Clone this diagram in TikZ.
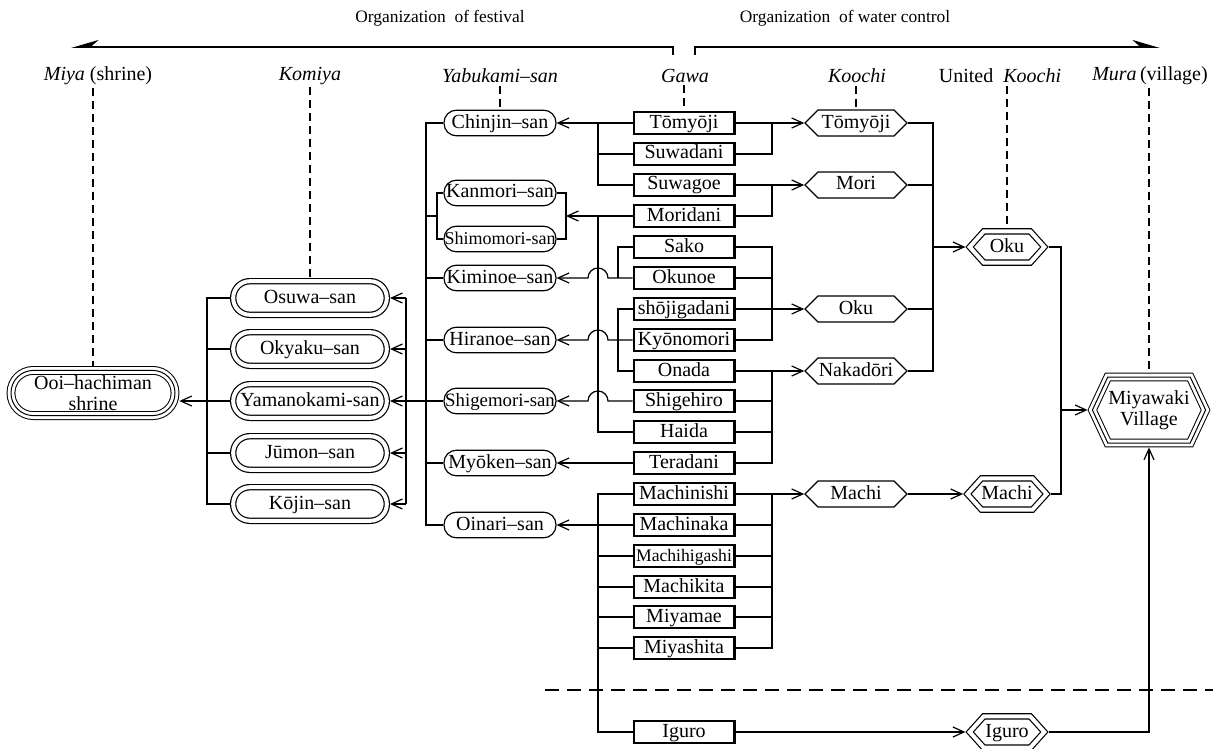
\documentclass[tikz,border=0pt]{standalone}
\usepackage{fontspec}
\setmainfont{Liberation Serif}
\usetikzlibrary{arrows.meta,calc,shapes.symbols}

\tikzset{
  colhead/.style={inner sep=1pt},
  orglabel/.style={font=\fontsize{8.7}{9}\selectfont},
  guide/.style={dash pattern=on 4pt off 2.5pt},
  arr/.style={-{Straight Barb[length=5.5pt,width=5pt]}},
  gawa/.style={draw, line width=1.2pt, minimum width=50.3pt, minimum height=10.8pt, text height=7pt, text depth=2pt, inner xsep=0pt, inner ysep=0.9pt},
  yabu/.style={draw, rounded corners=6.2pt, minimum width=56pt, minimum height=12.8pt, text height=7pt, text depth=2pt, inner xsep=0pt, inner ysep=1.9pt},
  komiya/.style={draw, double, double distance=2pt, rounded corners=8.3pt, minimum width=76.8pt, minimum height=16.8pt, text height=7pt, text depth=2pt, inner xsep=0pt, inner ysep=3.9pt, outer sep=1.6pt},
  koochi/.style={draw, signal, signal to=east and west, signal pointer angle=90, minimum width=51pt, minimum height=13pt, text height=7pt, text depth=2pt, inner xsep=0pt, inner ysep=2pt},
  unikoochi/.style={draw, double, double distance=2pt, signal, signal to=east and west, signal pointer angle=96, minimum width=37.3pt, minimum height=15.5pt, text height=7pt, text depth=2pt, inner xsep=0pt, inner ysep=3.3pt, outer sep=1.6pt},
  triple/.style={preaction={draw, line width=4.4pt}, preaction={draw, white, line width=3.4pt}, draw, line width=0.5pt, outer sep=2.2pt},
  shrine/.style={triple, rounded corners=11.2pt, minimum width=82pt, minimum height=22.6pt, inner sep=0pt, align=center},
  village/.style={triple, signal, signal to=east and west, signal pointer angle=130, minimum width=56.6pt, minimum height=33pt, inner sep=0pt, align=center},
}

\begin{document}
\begin{tikzpicture}[x=0.5pt, y=-0.5pt, line width=0.6pt, font=\fontsize{10}{10.5}\selectfont]
	\useasboundingbox (0,0) rectangle (1221,749);
	
	% the two organizations
	\node[orglabel] (festival) at (440,18) {Organization\ \ of festival};
	\node[orglabel] (water) at (845,18) {Organization\ \ of water control};
	\coordinate (festtick) at (673,55);
	\coordinate (festtip) at (71,47);
	\coordinate (watertick) at (695,55);
	\coordinate (watertip) at (1160,47);
	\draw[line width=1pt, -{Stealth[harpoon, swap, length=12pt, width=7pt]}] (festtick) |- (festtip);
	\draw[line width=1pt, -{Stealth[harpoon, length=12pt, width=7pt]}] (watertick) |- (watertip);
	
	% column heads
	\node[colhead] (miyah) at (98,76) {\textit{Miya} (shrine)};
	\node[colhead] (komiyah) at (310,76) {\textit{Komiya}};
	\node[colhead] (yabuh) at (500,76) {\textit{Yabukami–san}};
	\node[colhead] (gawah) at (685,76) {\textit{Gawa}};
	\node[colhead] (koochih) at (857,76) {\textit{Koochi}};
	\node[colhead] (unih) at (1000,76) {United\ \ \textit{Koochi}};
	\node[colhead] (murah) at (1150,76) {\textit{Mura}\,(village)};
	
	% bus lines
	\coordinate (kL) at (207,0);
	\coordinate (kR) at (406,0);
	\coordinate (yL) at (426,0);
	\coordinate (yB1) at (437,0);
	\coordinate (yB2) at (566,0);
	\coordinate (gL1) at (598,0);
	\coordinate (gL2) at (618,0);
	\coordinate (gR) at (772,0);
	\coordinate (uK) at (933,0);
	\coordinate (uR) at (1061,0);
	
	% Miya
	\node[shrine] (ooi) at (93,393) {Ooi–hachiman\\shrine};
	
	% Komiya
	\node[komiya] (osuwa) at (310,298) {Osuwa–san};
	\node[komiya] (okyaku) at (310,349) {Okyaku–san};
	\node[komiya] (yamanokami) at (310,401) {Yamanokami-san};
	\node[komiya] (jumon) at (310,453) {Jūmon–san};
	\node[komiya] (kojin) at (310,504) {Kōjin–san};
	
	% Yabukami-san
	\node[yabu] (chinjin) at (500,123) {Chinjin–san};
	\node[yabu] (kanmori) at (500,193) {Kanmori–san};
	\node[yabu, font=\fontsize{9}{9}\selectfont] (shimomori) at (500,239) {Shimomori-san};
	\node[yabu] (kiminoe) at (500,278) {Kiminoe–san};
	\node[yabu] (hiranoe) at (500,340) {Hiranoe–san};
	\node[yabu, font=\fontsize{9.4}{9.4}\selectfont] (shigemori) at (500,401) {Shigemori-san};
	\node[yabu] (myoken) at (500,463) {Myōken–san};
	\node[yabu] (oinari) at (500,525) {Oinari–san};
	
	% Gawa
	\node[gawa] (tomyoji) at (684,123) {Tōmyōji};
	\node[gawa] (suwadani) at (684,154) {Suwadani};
	\node[gawa] (suwagoe) at (684,185) {Suwagoe};
	\node[gawa] (moridani) at (684,216) {Moridani};
	\node[gawa] (sako) at (684,247) {Sako};
	\node[gawa] (okunoe) at (684,278) {Okunoe};
	\node[gawa] (shojigadani) at (684,309) {shōjigadani};
	\node[gawa] (kyonomori) at (684,340) {Kyōnomori};
	\node[gawa] (onada) at (684,371) {Onada};
	\node[gawa] (shigehiro) at (684,401) {Shigehiro};
	\node[gawa] (haida) at (684,432) {Haida};
	\node[gawa] (teradani) at (684,463) {Teradani};
	\node[gawa] (machinishi) at (684,494) {Machinishi};
	\node[gawa] (machinaka) at (684,525) {Machinaka};
	\node[gawa, font=\fontsize{8.8}{8.8}\selectfont] (machihigashi) at (684,556) {Machihigashi};
	\node[gawa] (machikita) at (684,587) {Machikita};
	\node[gawa] (miyamae) at (684,617) {Miyamae};
	\node[gawa] (miyashita) at (684,648) {Miyashita};
	\node[gawa] (iguro) at (684,732) {Iguro};
	
	% Koochi
	\node[koochi] (tomyojih) at (856,123) {Tōmyōji};
	\node[koochi] (morih) at (856,185) {Mori};
	\node[koochi] (okuh) at (856,309) {Oku};
	\node[koochi] (nakadorih) at (856,371) {Nakadōri};
	\node[koochi] (machih) at (856,494) {Machi};
	
	% United Koochi
	\node[unikoochi] (oku2) at (1007,247) {Oku};
	\node[unikoochi] (machi2) at (1007,494) {Machi};
	\node[unikoochi] (iguro2) at (1007,732) {Iguro};
	
	% Mura
	\node[village] (miyawaki) at (1149,410) {Miyawaki\\Village};
	
	% dashed guides
	\draw[guide] (miyah.south -| ooi.north) -- (ooi.north);
	\draw[guide] (komiyah.south -| osuwa.north) -- (osuwa.north);
	\draw[guide] (yabuh.south -| chinjin.north) -- (chinjin.north);
	\draw[guide] (gawah.south -| tomyoji.north) -- (tomyoji.north);
	\draw[guide] (koochih.south -| tomyojih.north) -- (tomyojih.north);
	\draw[guide] (unih.south -| oku2.north) -- (oku2.north);
	\draw[guide] (murah.south -| miyawaki.north) -- (miyawaki.north);
	
	% Gawa -> Yabukami-san
	\draw[arr] (tomyoji.west) -- (chinjin.east);
	\draw (suwagoe.west) -| (tomyoji.west -| gL1);
	\draw (suwadani.west) -- (suwadani.west -| gL1);
	\draw[arr] (moridani.west) -- (moridani.west -| yB2);
	\draw (haida.west) -| (moridani.west -| gL1);
	\draw (sako.west) -| (okunoe.west -| gL2);
	\draw[arr] (okunoe.west) -- ($(okunoe.west -| gL1)+(10,0)$) arc[start angle=0, end angle=180, radius=5pt] -- (kiminoe.east);
	\draw (shojigadani.west) -| (onada.west -| gL2) -- (onada.west);
	\draw[arr] (kyonomori.west) -- ($(kyonomori.west -| gL1)+(10,0)$) arc[start angle=0, end angle=180, radius=5pt] -- (hiranoe.east);
	\draw[arr] (shigehiro.west) -- ($(shigehiro.west -| gL1)+(10,0)$) arc[start angle=0, end angle=180, radius=5pt] -- (shigemori.east);
	\draw[arr] (teradani.west) -- (myoken.east);
	\draw[arr] (machinaka.west) -- (oinari.east);
	\draw (machinishi.west) -| (iguro.west -| gL1) -- (iguro.west);
	\draw (machihigashi.west) -- (machihigashi.west -| gL1);
	\draw (machikita.west) -- (machikita.west -| gL1);
	\draw (miyamae.west) -- (miyamae.west -| gL1);
	\draw (miyashita.west) -- (miyashita.west -| gL1);
	
	% Yabukami-san bus
	\draw (chinjin.west) -| (oinari.west -| yL) -- (oinari.west);
	\draw (kiminoe.west) -- (kiminoe.west -| yL);
	\draw (hiranoe.west) -- (hiranoe.west -| yL);
	\draw (myoken.west) -- (myoken.west -| yL);
	\draw (moridani.west -| yL) -- (moridani.west -| yB1);
	\draw (kanmori.west) -| (shimomori.west -| yB1) -- (shimomori.west);
	\draw (kanmori.east) -| (shimomori.east -| yB2) -- (shimomori.east);
	
	% Yabukami-san -> Komiya
	\draw (shigemori.west) -- (shigemori.west -| kR);
	\draw (osuwa.east -| kR) -- (kojin.east -| kR);
	\draw[arr] (osuwa.east -| kR) -- (osuwa.east);
	\draw[arr] (okyaku.east -| kR) -- (okyaku.east);
	\draw[arr] (yamanokami.east -| kR) -- (yamanokami.east);
	\draw[arr] (jumon.east -| kR) -- (jumon.east);
	\draw[arr] (kojin.east -| kR) -- (kojin.east);
	
	% Komiya -> Miya
	\draw (osuwa.west) -| (kojin.west -| kL) -- (kojin.west);
	\draw (okyaku.west) -- (okyaku.west -| kL);
	\draw (jumon.west) -- (jumon.west -| kL);
	\draw[arr] (yamanokami.west) -- (yamanokami.west -| ooi.east);
	
	% Gawa -> Koochi
	\draw[arr] (tomyoji.east) -- (tomyojih.west);
	\draw (suwadani.east) -| (tomyoji.east -| gR);
	\draw[arr] (suwagoe.east) -- (morih.west);
	\draw (moridani.east) -| (suwagoe.east -| gR);
	\draw (sako.east) -| (kyonomori.east -| gR) -- (kyonomori.east);
	\draw (okunoe.east) -- (okunoe.east -| gR);
	\draw[arr] (shojigadani.east) -- (okuh.west);
	\draw[arr] (onada.east) -- (nakadorih.west);
	\draw (teradani.east) -| (onada.east -| gR);
	\draw (shigehiro.east) -- (shigehiro.east -| gR);
	\draw (haida.east) -- (haida.east -| gR);
	\draw[arr] (machinishi.east) -- (machih.west);
	\draw (miyashita.east) -| (machinishi.east -| gR);
	\draw (machinaka.east) -- (machinaka.east -| gR);
	\draw (machihigashi.east) -- (machihigashi.east -| gR);
	\draw (machikita.east) -- (machikita.east -| gR);
	\draw (miyamae.east) -- (miyamae.east -| gR);
	\draw[arr] (iguro.east) -- (iguro2.west);
	
	% Koochi -> United Koochi
	\draw (tomyojih.east) -| (nakadorih.east -| uK) -- (nakadorih.east);
	\draw (morih.east) -- (morih.east -| uK);
	\draw (okuh.east) -- (okuh.east -| uK);
	\draw[arr] (oku2.west -| uK) -- (oku2.west);
	\draw[arr] (machih.east) -- (machi2.west);
	
	% United Koochi -> Mura
	\draw (oku2.east) -| (machi2.east -| uR) -- (machi2.east);
	\draw[arr] (miyawaki.west -| uR) -- (miyawaki.west);
	\draw[arr] (iguro2.east) -| (miyawaki.south);
	
	% lower boundary
	\coordinate (divL) at (545,690);
	\coordinate (divR) at (1213,690);
	\draw[dash pattern=on 7pt off 4pt] (divL) -- (divR);
	
\end{tikzpicture}
\end{document}
